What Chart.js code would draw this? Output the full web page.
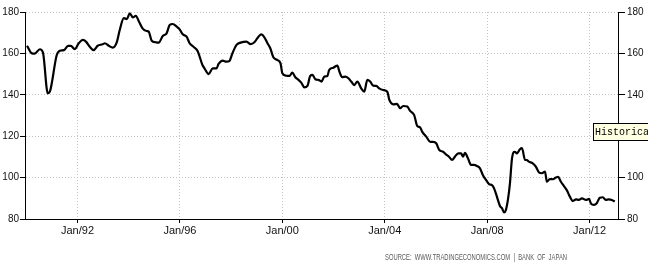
<!DOCTYPE html>
<html>
<head>
<meta charset="utf-8">
<script src="https://cdn.jsdelivr.net/npm/chart.js@4/dist/chart.umd.min.js"></script>
<style>
html,body{margin:0;padding:0;background:#fff;}
#wrap{width:648px;height:264px;position:relative;}
</style>
</head>
<body>
<div id="wrap"><canvas id="c" width="648" height="264"></canvas></div>
<script>
const dates = [
1990.03,1990.22,1990.33,1990.53,1990.65,1990.84,1990.92,1991.19,1991.31,1991.47,
1991.63,1991.74,1991.89,1992.05,1992.21,1992.33,1992.48,1992.63,1992.79,1992.98,
1993.07,1993.22,1993.38,1993.53,1993.65,1993.81,1993.93,1994.04,1994.16,1994.28,
1994.39,1994.54,1994.70,1994.78,1994.90,1995.05,1995.17,1995.33,1995.48,1995.60,
1995.72,1995.88,1995.99,1996.11,1996.26,1996.38,1996.53,1996.69,1996.88,1996.96,
1997.12,1997.28,1997.43,1997.51,1997.67,1997.82,1997.93,1998.05,1998.21,1998.37,
1998.60,1998.76,1998.91,1999.07,1999.18,1999.30,1999.42,1999.53,1999.65,1999.81,
1999.93,2000.00,2000.16,2000.28,2000.39,2000.51,2000.63,2000.74,2000.86,2000.98,
2001.09,2001.18,2001.29,2001.41,2001.53,2001.64,2001.76,2001.83,2001.99,2002.15,
2002.23,2002.34,2002.46,2002.58,2002.69,2002.81,2002.93,2003.08,2003.20,2003.32,
2003.43,2003.55,2003.67,2003.78,2003.94,2004.10,2004.18,2004.33,2004.48,2004.60,
2004.72,2004.88,2004.99,2005.15,2005.27,2005.38,2005.46,2005.62,2005.78,2005.89,
2006.01,2006.13,2006.28,2006.39,2006.51,2006.63,2006.74,2006.87,2006.98,2007.06,
2007.13,2007.25,2007.37,2007.48,2007.60,2007.72,2007.83,2007.96,2008.08,2008.19,
2008.27,2008.38,2008.50,2008.58,2008.66,2008.73,2008.81,2008.89,2008.97,2009.08,
2009.16,2009.28,2009.36,2009.48,2009.55,2009.63,2009.78,2009.90,2010.03,2010.14,
2010.26,2010.33,2010.45,2010.57,2010.68,2010.77,2010.88,2011.00,2011.12,2011.23,
2011.35,2011.47,2011.58,2011.70,2011.86,2011.98,2012.05,2012.17,2012.28,2012.40,
2012.52,2012.63,2012.75,2012.87,2012.98
];
const values = [
163.7,160.0,159.9,162,160.5,140.7,141.5,159.2,161.3,161.6,
163.6,163.6,162.1,164.9,166.5,165.7,163.2,161.6,163.7,164.4,
164.9,163.7,162.8,165.2,171.3,177,176.6,179.4,177.4,178.2,
175.7,172.1,170.8,170.5,166.1,165.4,165.2,168.4,169.7,173.7,
174.2,172.9,171.6,169.2,168.1,164.9,163.2,161.2,154.4,152.8,
150,152.8,152.8,154.9,156.5,156,156.3,160,164.1,165.2,
165.7,164.5,165.4,168.1,169.2,167.8,164.9,162.5,158.1,156.8,
155.2,150.4,149.2,149.1,150.7,148.5,147.2,145.9,143.6,144.3,
149.1,149.6,147.5,147.2,146.4,148.8,149.1,152,153.1,154.1,
151.2,148.5,148.8,148,146.4,144.7,146.4,143.1,141.5,147.2,
146.4,144.4,144.3,143.1,142.3,141.5,137.5,135.4,135.6,133.5,
134.6,134.3,132.2,130.2,124.9,124.3,122.2,119.8,117.3,117.3,
116.6,113.3,112.5,111.2,110.1,108.5,110.1,111.7,111.7,110.1,
112,109.3,106.1,106.1,105.6,104.5,101.3,98.8,96.8,96.4,
94.8,90.8,86.3,85.2,83.2,84.3,89.2,97.2,109.3,112.5,
111.7,113.7,114.2,108.5,108.5,107.7,106.9,105.3,102.4,102.1,
102.9,98,99.3,99.2,100,100.4,98,95.9,93.7,90.8,
88.7,89.5,89.2,90,89.2,89.7,87.6,86.8,87.6,90.3,
90.5,89.2,89.5,89.2,88.4
];
const xTickYears = [1992, 1996, 2000, 2004, 2008, 2012];
const xTickLabels = ['Jan/92', 'Jan/96', 'Jan/00', 'Jan/04', 'Jan/08', 'Jan/12'];
const yTicks = [80, 100, 120, 140, 160, 180];
const sourceText = 'SOURCE:  WWW.TRADINGECONOMICS.COM  |  BANK  OF  JAPAN';
const tipText = 'Historica';

const points = dates.map((d, i) => ({x: d, y: values[i]}));
const tickFont = {family: '"Liberation Sans", Arial, sans-serif', size: 10};
const gridDot = '#c4c4c4';

const extras = {
  id: 'extras',
  afterDraw(chart) {
    const ctx = chart.ctx;
    ctx.save();
    ctx.fillStyle = '#5a5a5a';
    ctx.font = '9px "Liberation Sans", Arial, sans-serif';
    ctx.textBaseline = 'middle';
    ctx.textAlign = 'left';
    ctx.fillText(sourceText, 385, 257.5, 182);
    // tooltip remnant box
    ctx.fillStyle = '#ffffe1';
    ctx.fillRect(593, 123.5, 60, 17);
    ctx.strokeStyle = '#000';
    ctx.lineWidth = 1;
    ctx.strokeRect(593.5, 123.5, 60, 17);
    ctx.fillStyle = '#000';
    ctx.font = '10px "Liberation Mono", "DejaVu Sans Mono", monospace';
    ctx.fillText(tipText, 595, 132.5);
    ctx.restore();
  }
};

new Chart(document.getElementById('c'), {
  type: 'line',
  data: {
    datasets: [{
      data: points,
      borderColor: '#000',
      borderWidth: 2.2,
      pointRadius: 0,
      fill: false,
      cubicInterpolationMode: 'monotone',
      yAxisID: 'y'
    }]
  },
  options: {
    responsive: false,
    animation: false,
    events: [],
    layout: {padding: {top: 12, left: 0, right: 0, bottom: 0}},
    plugins: {legend: {display: false}, tooltip: {enabled: false}},
    scales: {
      x: {
        type: 'linear',
        min: 1989.95,
        max: 2013.11,
        afterBuildTicks: (axis) => { axis.ticks = xTickYears.map(v => ({value: v})); },
        afterFit: (s) => { s.height = 45; },
        ticks: {
          callback: (v) => xTickLabels[xTickYears.indexOf(v)],
          font: {family: '"Liberation Sans", Arial, sans-serif', size: 11},
          color: '#111',
          padding: 1,
          maxRotation: 0,
          autoSkip: false
        },
        grid: {color: gridDot, tickColor: '#000', tickLength: 4, lineWidth: 1},
        border: {display: true, color: '#000', width: 1, dash: [1, 2]}
      },
      y: {
        position: 'left',
        min: 80,
        max: 180,
        afterBuildTicks: (axis) => { axis.ticks = yTicks.map(v => ({value: v})); },
        afterFit: (s) => { s.width = 25; },
        ticks: {font: tickFont, color: '#111', padding: 1},
        grid: {
          color: (c) => (c.tick && c.tick.value === 80) ? 'rgba(0,0,0,0)' : gridDot,
          tickColor: '#000', tickLength: 5, lineWidth: 1
        },
        border: {display: true, color: '#000', width: 1, dash: [1, 2]}
      },
      y2: {
        position: 'right',
        min: 80,
        max: 180,
        afterBuildTicks: (axis) => { axis.ticks = yTicks.map(v => ({value: v})); },
        afterFit: (s) => { s.width = 30; },
        ticks: {font: tickFont, color: '#111', padding: 2},
        grid: {drawOnChartArea: false, tickColor: '#000', tickLength: 7, lineWidth: 1},
        border: {display: true, color: '#000', width: 1}
      }
    }
  },
  plugins: [extras]
});
</script>
</body>
</html>
